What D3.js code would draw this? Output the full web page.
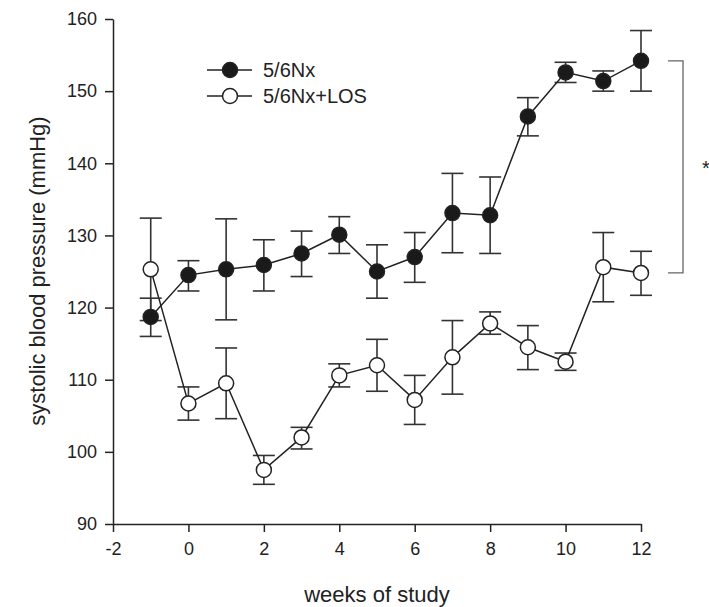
<!DOCTYPE html>
<html>
<head>
<meta charset="utf-8">
<script src="https://cdn.jsdelivr.net/npm/d3@7"></script>
<style>
  body { margin: 0; background: #fff; }
  svg text { font-family: Arial, "Liberation Sans", sans-serif; fill: #222; }
</style>
</head>
<body>
<div id="chart"></div>
<script>
// weeks of study
var weeks = [-1, 0, 1, 2, 3, 4, 5, 6, 7, 8, 9, 10, 11, 12];

// 5/6Nx : mean, lower and upper end of error bar
var nxMean = [118.7, 124.5, 125.3, 125.9, 127.5, 130.1, 125.0, 127.0, 133.1, 132.8, 146.5, 152.6, 151.4, 154.2];
var nxLow  = [116.0, 122.3, 118.3, 122.3, 124.3, 127.5, 121.3, 123.5, 127.6, 127.5, 143.8, 151.2, 150.0, 150.0];
var nxHigh = [121.3, 126.5, 132.3, 129.4, 130.6, 132.6, 128.7, 130.4, 138.6, 138.1, 149.1, 154.0, 152.8, 158.4];

// 5/6Nx+LOS
var losMean = [125.3, 106.7, 109.5, 97.5, 102.0, 110.6, 112.0, 107.2, 113.1, 117.8, 114.5, 112.5, 125.6, 124.8];
var losLow  = [118.2, 104.4, 104.6, 95.5, 100.4, 109.0, 108.4, 103.8, 108.0, 116.3, 111.4, 111.3, 120.8, 121.7];
var losHigh = [132.4, 109.0, 114.4, 99.5, 103.4, 112.2, 115.6, 110.6, 118.2, 119.4, 117.5, 113.7, 130.4, 127.8];

var xTicks = [-2, 0, 2, 4, 6, 8, 10, 12];
var yTicks = [90, 100, 110, 120, 130, 140, 150, 160];
var seriesNames = ['5/6Nx', '5/6Nx+LOS'];

var width = 709, height = 607;
var svg = d3.select('#chart').append('svg')
  .attr('width', width).attr('height', height);

var x = d3.scaleLinear().domain([-2, 12]).range([113, 641]);
var y = d3.scaleLinear().domain([90, 160]).range([524, 19]);

// plain hyphen for negatives, like the original
var fmt = function(d) { return String(d); };

// axes
var xAxis = svg.append('g')
  .attr('transform', 'translate(0,' + y(90) + ')')
  .call(d3.axisBottom(x).tickValues(xTicks).tickFormat(fmt).tickSize(8).tickPadding(10).tickSizeOuter(0));
var yAxis = svg.append('g')
  .attr('transform', 'translate(' + x(-2) + ',0)')
  .call(d3.axisLeft(y).tickValues(yTicks).tickFormat(fmt).tickSize(8).tickPadding(8).tickSizeOuter(0));

[xAxis, yAxis].forEach(function(a) {
  a.select('.domain').attr('stroke', '#222').attr('stroke-width', 1.5);
  a.selectAll('.tick line').attr('stroke', '#222').attr('stroke-width', 1.5);
  a.selectAll('.tick text').style('font-size', '18px').attr('fill', '#222');
});

// axis titles
svg.append('text')
  .attr('x', 377).attr('y', 602)
  .attr('text-anchor', 'middle')
  .style('font-size', '22px')
  .text('weeks of study');

svg.append('text')
  .attr('transform', 'translate(45,271) rotate(-90)')
  .attr('text-anchor', 'middle')
  .style('font-size', '22px')
  .text('systolic blood pressure (mmHg)');

function drawSeries(mean, low, high, fill) {
  var g = svg.append('g');
  var line = d3.line()
    .x(function(d, i) { return x(weeks[i]); })
    .y(function(d) { return y(d); });

  // error bars
  weeks.forEach(function(w, i) {
    var cx = x(w);
    g.append('line').attr('x1', cx).attr('x2', cx)
      .attr('y1', y(low[i])).attr('y2', y(high[i]))
      .attr('stroke', '#333').attr('stroke-width', 1.6);
    [low[i], high[i]].forEach(function(v) {
      g.append('line').attr('x1', cx - 11).attr('x2', cx + 11)
        .attr('y1', y(v)).attr('y2', y(v))
        .attr('stroke', '#333').attr('stroke-width', 1.6);
    });
  });

  g.append('path').datum(mean)
    .attr('d', line)
    .attr('fill', 'none')
    .attr('stroke', '#222')
    .attr('stroke-width', 1.5);

  g.selectAll('circle').data(mean).enter().append('circle')
    .attr('cx', function(d, i) { return x(weeks[i]); })
    .attr('cy', function(d) { return y(d); })
    .attr('r', 7.5)
    .attr('fill', fill)
    .attr('stroke', '#222')
    .attr('stroke-width', 1.5);
}

drawSeries(losMean, losLow, losHigh, '#fff');
drawSeries(nxMean, nxLow, nxHigh, '#1a1a1a');

// legend
var legend = svg.append('g');
[['#1a1a1a', 70], ['#fff', 96]].forEach(function(item, i) {
  legend.append('line')
    .attr('x1', 207).attr('x2', 252)
    .attr('y1', item[1]).attr('y2', item[1])
    .attr('stroke', '#222').attr('stroke-width', 1.5);
  legend.append('circle')
    .attr('cx', 230).attr('cy', item[1]).attr('r', 7.5)
    .attr('fill', item[0]).attr('stroke', '#222').attr('stroke-width', 1.5);
  legend.append('text')
    .attr('x', 263).attr('y', item[1] + 7)
    .style('font-size', '20px')
    .text(seriesNames[i]);
});

// significance bracket between week 12 values
var bx = 683;
var yTop = y(nxMean[nxMean.length - 1]);
var yBot = y(losMean[losMean.length - 1]);
svg.append('path')
  .attr('d', 'M' + (bx - 15) + ',' + yTop + 'H' + bx + 'V' + yBot + 'H' + (bx - 15))
  .attr('fill', 'none')
  .attr('stroke', '#666')
  .attr('stroke-width', 1.3);
svg.append('text')
  .attr('x', 706).attr('y', (yTop + yBot) / 2 + 8)
  .attr('text-anchor', 'middle')
  .style('font-size', '20px')
  .text('*');
</script>
</body>
</html>
